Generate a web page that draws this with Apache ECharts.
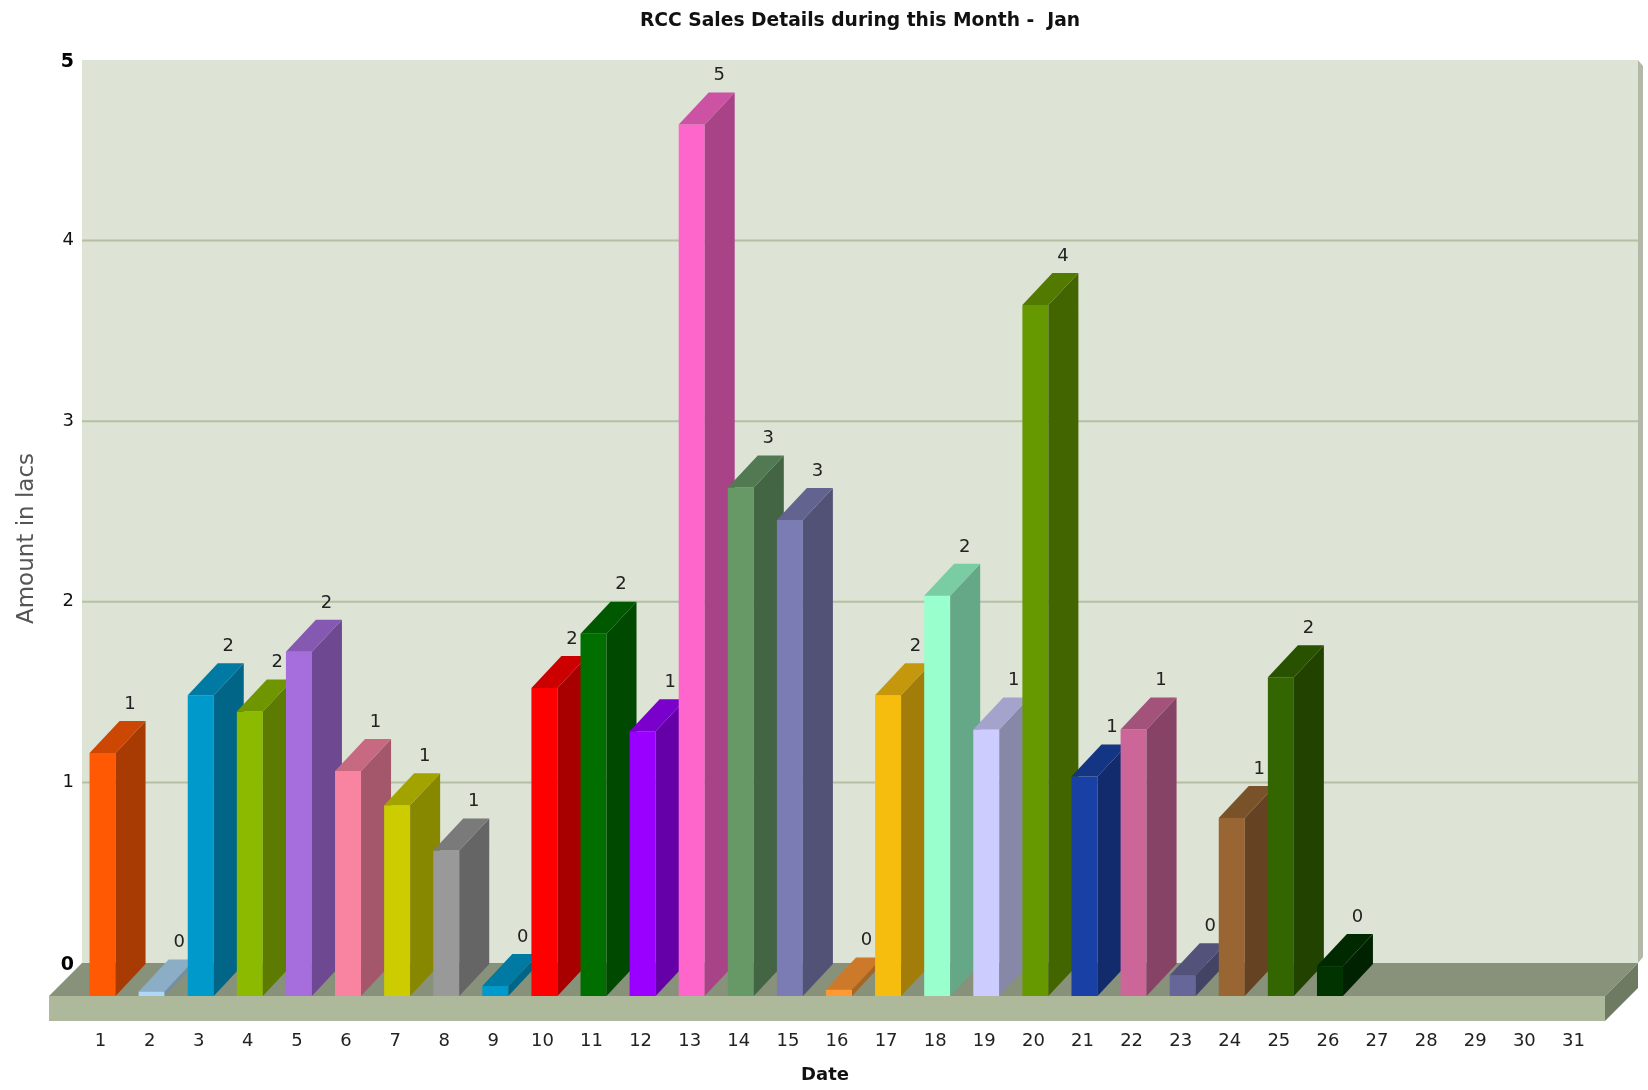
<!DOCTYPE html>
<html><head><meta charset="utf-8">
<style>html,body{margin:0;padding:0;background:#fff}#c{width:1648px;height:1090px}</style>
<script src="https://cdn.jsdelivr.net/npm/echarts@6/dist/echarts.min.js"></script>
</head><body><div id="c"></div>
<script>
const categories = ['1','2','3','4','5','6','7','8','9','10','11','12','13','14','15','16','17','18','19','20','21','22','23','24','25','26','27','28','29','30','31'];
const values = [1.34,0.02,1.66,1.57,1.90,1.24,1.05,0.80,0.05,1.70,2.00,1.46,4.82,2.81,2.63,0.03,1.66,2.21,1.47,3.82,1.21,1.47,0.11,0.98,1.76,0.16];
const valueLabels = ['1','0','2','2','2','1','1','1','0','2','2','1','5','3','3','0','2','2','1','4','1','1','0','1','2','0'];
const barColors = ['#FF5904','#AFD8F8','#0099CC','#8BBA00','#A66EDD','#F984A1','#CCCC00','#999999','#0099CC','#FF0000','#006F00','#9900FF','#FF66CC','#669966','#7C7CB4','#FF9933','#F6BD0F','#99FFCC','#CCCCFF','#669900','#1941A5','#CC6699','#666699','#996633','#336600','#003300'];
const yTicks = [1,2,3,4];
const titleText = 'RCC Sales Details during this Month -  Jan';
const xName = 'Date';
const yName = 'Amount in lacs';

const FONT = '"DejaVu Sans"';
const TEXT = '#222';
const DX = 30, DY = 32, BAR_W = 26;
const FLOOR_DX = 33, FLOOR_DY = 33, FLOOR_H = 25;

function shade(hex, f) {
  const n = parseInt(hex.slice(1), 16);
  const c = s => Math.round(((n >> s) & 255) * f);
  return 'rgb(' + c(16) + ',' + c(8) + ',' + c(0) + ')';
}
function poly(pts, fill) {
  return { type: 'polygon', shape: { points: pts }, style: { fill: fill } };
}

function renderScene(params, api) {
  const cs = params.coordSys;
  const wallL = cs.x + 4, wallR = cs.x + cs.width + 38, top = cs.y, back = cs.y + cs.height;
  const frontL = wallL - FLOOR_DX, frontR = wallR - FLOOR_DX, front = back + FLOOR_DY;
  const kids = [
    poly([[wallR, top], [wallR + 5, top + 6], [wallR + 5, back - 6], [wallR, back]], '#B3B9A9'),
    { type: 'rect', shape: { x: wallL, y: top, width: wallR - wallL, height: back - top }, style: { fill: '#DDE3D5' } }
  ];
  yTicks.forEach(t => {
    const y = api.coord([0, t])[1];
    kids.push({ type: 'rect', shape: { x: wallL, y: y - 1, width: wallR - wallL, height: 2 }, style: { fill: '#B5C0A3' } });
  });
  kids.push(poly([[frontL, front], [wallL, back], [wallR, back], [frontR, front]], '#88927A'));
  kids.push(poly([[frontR, front], [wallR, back], [wallR, back + FLOOR_H], [frontR, front + FLOOR_H]], '#6F7A62'));
  kids.push({ type: 'rect', shape: { x: frontL, y: front, width: frontR - frontL, height: FLOOR_H }, style: { fill: '#AEB99C' } });
  return { type: 'group', children: kids };
}

function renderBar(params, api) {
  const i = api.value(0);
  const p = api.coord([i, api.value(1)]);
  const base = api.coord([i, 0]);
  const col = barColors[i];
  const l = p[0] - BAR_W / 2, r = l + BAR_W;
  const t = p[1] + DY, b = base[1] + FLOOR_DY;
  return { type: 'group', children: [
    { type: 'rect', shape: { x: l, y: t, width: BAR_W, height: b - t }, style: { fill: col } },
    poly([[r, b], [r + DX, b - DY], [r + DX, t - DY], [r, t]], shade(col, 0.66)),
    poly([[l, t], [l + DX, t - DY], [r + DX, t - DY], [r, t]], shade(col, 0.8)),
    { type: 'text', style: { x: p[0] + 27.5, y: p[1] - 17, text: valueLabels[i], fill: TEXT, font: '18px ' + FONT, align: 'center', verticalAlign: 'middle' } }
  ] };
}

const chart = echarts.init(document.getElementById('c'), null, { renderer: 'canvas' });
chart.setOption({
  animation: false,
  backgroundColor: '#fff',
  title: { text: titleText, left: 855, top: 7, textAlign: 'center',
    textStyle: { fontFamily: FONT, fontSize: 18.7, fontWeight: 'bold', color: '#111' } },
  grid: { left: 78, top: 60, width: 1522, height: 903 },
  xAxis: { type: 'category', data: categories, name: xName, nameLocation: 'middle', nameGap: 103,
    nameTextStyle: { fontFamily: FONT, fontSize: 18, fontWeight: 'bold', color: '#111', padding: [0, 28, 0, 0] },
    axisLine: { show: false }, axisTick: { show: false }, splitLine: { show: false },
    axisLabel: { interval: 0, margin: 69, fontFamily: FONT, fontSize: 18, color: TEXT, padding: [0, 4, 0, 0] } },
  yAxis: { type: 'value', min: 0, max: 5, interval: 1, name: yName, nameLocation: 'middle', nameGap: 39,
    nameTextStyle: { fontFamily: FONT, fontSize: 23, color: '#555', padding: [0, 54, 0, 0] },
    axisLine: { show: false }, axisTick: { show: false }, splitLine: { show: false },
    axisLabel: { margin: 4, fontFamily: FONT, fontSize: 18, color: '#111',
      formatter: v => (v === 0 || v === 5) ? '{b|' + v + '}' : String(v),
      rich: { b: { fontFamily: FONT, fontSize: 19, fontWeight: 'bold', color: '#000', padding: [5, 0, 0, 0] } } } },
  series: [
    { type: 'custom', z: 1, silent: true, data: [[0, 0]], renderItem: renderScene, encode: { x: 0, y: 1 } },
    { type: 'custom', z: 2, data: values.map((v, i) => [i, v]), renderItem: renderBar, encode: { x: 0, y: 1 } }
  ]
});
</script></body></html>
